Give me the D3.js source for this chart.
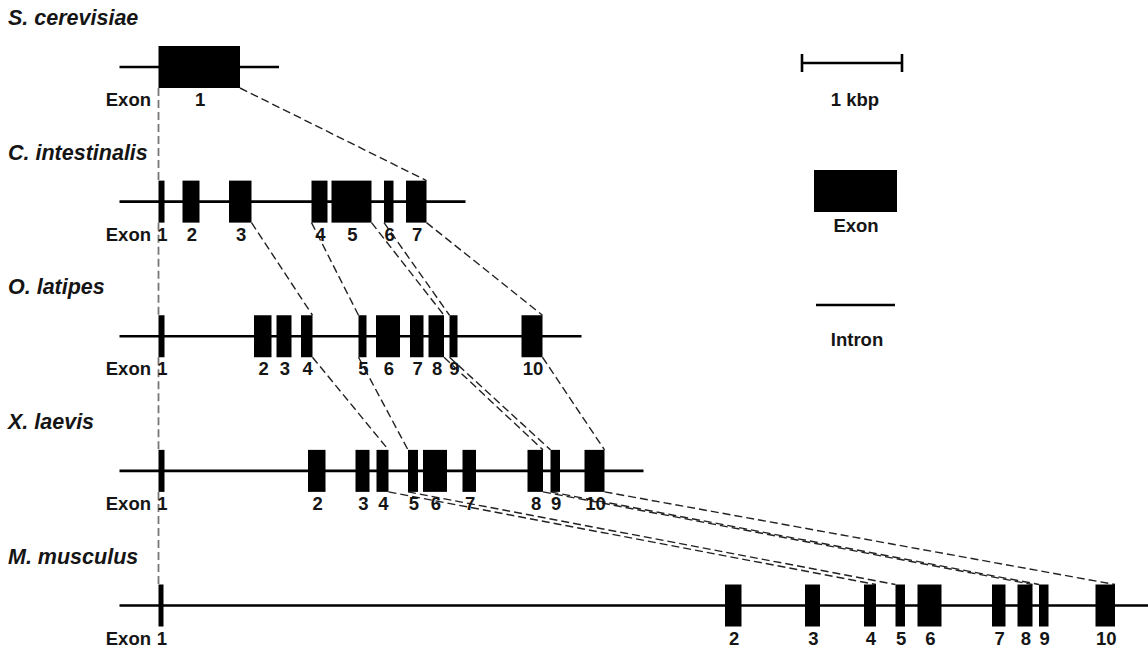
<!DOCTYPE html>
<html>
<head>
<meta charset="utf-8">
<script src="https://cdn.jsdelivr.net/npm/d3@7"></script>
<style>
  html, body { margin: 0; padding: 0; background: #fff; }
  svg { display: block; }
  text { font-family: "Liberation Sans", Arial, Helvetica, sans-serif; font-weight: bold; fill: #151515; }
</style>
</head>
<body>
<svg id="chart" width="1148" height="654"></svg>
<script>
// ---------------- DATA (bp, relative to start of exon 1) ----------------
const species = ["S. cerevisiae", "C. intestinalis", "O. latipes", "X. laevis", "M. musculus"];

const exonsScerevisiae   = [[0, 815]];
const exonsCintestinalis = [[0, 60], [240, 410], [705, 930], [1530, 1690], [1730, 2130], [2255, 2350], [2475, 2680]];
const exonsOlatipes      = [[0, 60], [955, 1130], [1180, 1330], [1425, 1540], [2000, 2080], [2175, 2415], [2515, 2650], [2700, 2855], [2910, 2990], [3630, 3840]];
const exonsXlaevis       = [[0, 60], [1495, 1670], [1970, 2110], [2180, 2300], [2495, 2595], [2645, 2885], [3040, 3175], [3690, 3845], [3920, 4015], [4260, 4460]];
const exonsMmusculus     = [[0, 50], [5665, 5830], [6465, 6615], [7055, 7175], [7370, 7465], [7590, 7830], [8335, 8470], [8590, 8740], [8805, 8900], [9370, 9565]];

const allExons = [exonsScerevisiae, exonsCintestinalis, exonsOlatipes, exonsXlaevis, exonsMmusculus];

// homologous boundaries: [fromRow, fromExon(1-based), side, toExon(1-based), side]
const links = [
  [0, 1, "L", 1, "L"], [0, 1, "R", 7, "R"],
  [1, 1, "L", 1, "L"], [1, 3, "R", 4, "R"], [1, 4, "L", 5, "L"], [1, 5, "R", 8, "R"], [1, 6, "L", 9, "L"], [1, 7, "R", 10, "R"],
  [2, 1, "L", 1, "L"], [2, 4, "R", 4, "R"], [2, 5, "L", 5, "L"], [2, 8, "R", 8, "R"], [2, 9, "L", 9, "L"], [2, 10, "R", 10, "R"],
  [3, 1, "L", 1, "L"], [3, 4, "R", 4, "R"], [3, 5, "L", 5, "L"], [3, 8, "R", 8, "R"], [3, 9, "L", 9, "L"], [3, 10, "R", 10, "R"]
];

const flankBp = 390;      // intron line drawn beyond first/last exon
const scaleBarBp = 1000;  // 1 kbp

// ---------------- LAYOUT ----------------
const svg = d3.select("#chart");
const x = d3.scaleLinear().domain([0, 1000]).range([158.5, 258.5]);
const row = d3.scaleLinear().domain([0, 4]).range([67, 605.5]);
const exonH = 42;
const labelFs = 18.5;

// dashed links (below exons)
const gLinks = svg.append("g");
links.forEach(([r, e1, s1, e2, s2]) => {
  const a = allExons[r][e1 - 1], b = allExons[r + 1][e2 - 1];
  const xa = x(s1 === "L" ? a[0] : a[1]);
  const xb = x(s2 === "L" ? b[0] : b[1]);
  const vertical = Math.abs(xa - xb) < 1;
  gLinks.append("line")
    .attr("x1", xa).attr("y1", row(r) + exonH / 2)
    .attr("x2", xb).attr("y2", row(r + 1) - exonH / 2)
    .attr("stroke", vertical ? "#777" : "#222")
    .attr("stroke-width", vertical ? 1.8 : 1.4)
    .attr("stroke-dasharray", "8,4");
});

// gene rows
allExons.forEach((exons, i) => {
  const g = svg.append("g");
  const y = row(i);
  const last = exons[exons.length - 1][1];
  g.append("line")
    .attr("x1", x(-flankBp)).attr("x2", Math.min(x(last + flankBp), 1150))
    .attr("y1", y).attr("y2", y)
    .attr("stroke", "#000").attr("stroke-width", 2.6);
  g.selectAll("rect").data(exons).join("rect")
    .attr("x", d => x(d[0])).attr("width", d => x(d[1]) - x(d[0]))
    .attr("y", y - exonH / 2).attr("height", exonH)
    .attr("fill", "#000");
  g.selectAll("text.num").data(exons).join("text")
    .attr("class", "num")
    .attr("x", d => (x(d[0]) + x(d[1])) / 2 + 1)
    .attr("y", y + exonH / 2 + 18)
    .attr("text-anchor", "middle")
    .attr("font-size", labelFs)
    .text((d, j) => j + 1);
  g.append("text")
    .attr("x", 151).attr("y", y + exonH / 2 + 18)
    .attr("text-anchor", "end").attr("font-size", labelFs)
    .text("Exon");
  g.append("text")
    .attr("x", 8).attr("y", y - 42)
    .attr("font-size", 21.5).attr("font-style", "italic")
    .text(species[i]);
});

// legend
const lg = svg.append("g");
const sbx0 = 802, sbw = x(scaleBarBp) - x(0), sby = 63;
lg.append("line").attr("x1", sbx0).attr("x2", sbx0 + sbw).attr("y1", sby).attr("y2", sby)
  .attr("stroke", "#000").attr("stroke-width", 2.6);
[sbx0, sbx0 + sbw].forEach(v => lg.append("line")
  .attr("x1", v).attr("x2", v).attr("y1", sby - 9).attr("y2", sby + 9)
  .attr("stroke", "#000").attr("stroke-width", 2.6));
lg.append("text").attr("x", sbx0 + sbw / 2 + 3).attr("y", 106).attr("text-anchor", "middle")
  .attr("font-size", labelFs).text("1 kbp");
lg.append("rect").attr("x", 814).attr("y", 170).attr("width", 83).attr("height", exonH).attr("fill", "#000");
lg.append("text").attr("x", 856).attr("y", 232).attr("text-anchor", "middle")
  .attr("font-size", labelFs).text("Exon");
lg.append("line").attr("x1", 816).attr("x2", 895).attr("y1", 305).attr("y2", 305)
  .attr("stroke", "#000").attr("stroke-width", 2.6);
lg.append("text").attr("x", 857).attr("y", 346).attr("text-anchor", "middle")
  .attr("font-size", labelFs).text("Intron");
</script>
</body>
</html>
